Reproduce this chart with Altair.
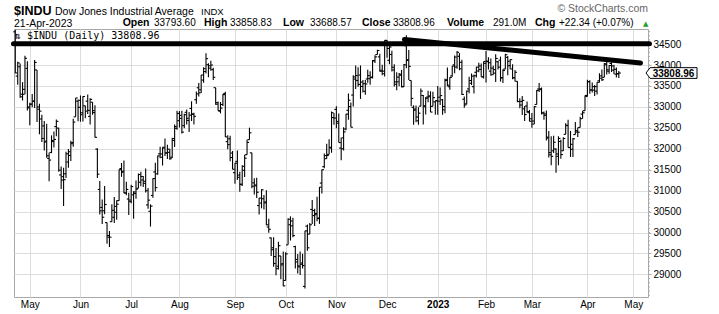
import altair as alt
import pandas as pd

# ---------------- data ----------------
holidays = ["2022-05-30", "2022-06-20", "2022-07-04", "2022-09-05", "2022-11-24",
            "2022-12-26", "2023-01-02", "2023-01-16", "2023-02-20", "2023-04-07"]

opens = [
    # Apr 2022
    34793, 33736, 33958, 33302, 33419, 33920,
    # May
    32998, 33068, 33142, 33883, 32944, 32711, 32546, 32181, 31771, 31912, 32171, 32530, 32493, 31375, 31335, 31402, 31683, 31841, 32148, 32762, 33138,
    # Jun
    33156, 32859, 33027, 33136, 32773, 33111, 32864, 31991, 31028, 30598, 30519, 30237, 29889, 30259, 30364, 30624, 30761, 31527, 31461, 30943, 30800,
    # Jul
    30737, 30899, 30932, 31056, 31200, 31254, 31224, 30659, 30506, 30886, 31447, 31401, 31879, 31797, 32017, 31901, 31915, 31799, 32243, 32488,
    # Aug
    32671, 32726, 32552, 32871, 32676, 32962, 32822, 33172, 33457, 33408, 33640, 33844, 34008, 33925, 33890, 33459, 33101, 32898, 33057, 33320, 32171, 32237, 31897,
    # Sep
    31429, 31699, 31371, 31156, 31486, 31858, 32218, 31903, 31185, 31114, 30643, 30704, 30807, 30732, 30131, 29871, 29636, 29425, 29195, 29441, 29255,
    # Oct
    28855, 29705, 30186, 30159, 29663, 29356, 29180, 29272, 28713, 30152, 29962, 30551, 30405, 30452, 30346, 31181, 31572, 31764, 31866, 32018, 32745,
    # Nov
    32940, 32610, 32017, 32261, 32471, 32918, 33006, 33283, 33664, 33632, 33760, 33488, 33374, 33667, 33674, 33713, 34106, 34250, 34195, 33874, 33792,
    # Dec
    34585, 34112, 34252, 33882, 33540, 33711, 33755, 33487, 34460, 34126, 33631, 32989, 32948, 32669, 33017, 33273, 33004, 33235, 33264, 33013, 33121,
    # Jan 2023
    33148, 33231, 33169, 33010, 33648, 33482, 33739, 34004, 33952, 34208, 34065, 33184, 33073, 33429, 33565, 33482, 33826, 33858, 33894, 33717,
    # Feb
    34040, 34081, 33855, 33769, 33807, 34078, 34115, 33690, 33905, 34183, 33985, 33905, 33693, 33611, 33128, 33130, 32953, 33021, 32861,
    # Mar
    32716, 32589, 33058, 33426, 33411, 32853, 32833, 32278, 31857, 31951, 31994, 31820, 32175, 31952, 32344, 32553, 32028, 31987, 32339, 32400, 32508, 32828, 32910,
    # Apr
    33248, 33602, 33405, 33400, 33376, 33623, 33741, 33707, 34005, 33852, 34036, 33877, 33781, 33794,
]
highs = [
    34843, 34077, 34034, 33591, 34223, 34090,
    33101, 33305, 34118, 33883, 33073, 32813, 32660, 32597, 31904, 32320, 32410, 32699, 32502, 31578, 31544, 31928, 31996, 32190, 32718, 33213, 33179,
    33273, 33256, 33027, 33298, 33208, 33111, 33042, 32013, 31230, 30789, 31108, 30237, 30038, 30677, 30850, 30773, 31503, 31660, 31720, 31214, 30950,
    31143, 30988, 31243, 31408, 31449, 31350, 31526, 31064, 30673, 31298, 31668, 31838, 32048, 32036, 32244, 32097, 32003, 32264, 32578, 32910,
    32900, 32906, 32836, 32939, 32875, 33135, 32859, 33365, 33573, 33761, 33944, 34281, 34044, 34100, 33937, 33459, 33130, 33117, 33309, 33364, 32323, 32308, 31946,
    31667, 31959, 31450, 31608, 31857, 32215, 32504, 31903, 31294, 31306, 30826, 31034, 30898, 31009, 30330, 29878, 29888, 29632, 29779, 29441, 29546,
    29529, 30338, 30387, 30355, 29682, 29488, 29548, 29492, 30040, 30191, 30226, 30777, 30568, 30853, 31085, 31505, 31889, 32117, 32229, 32889, 32855,
    33014, 32840, 32264, 32516, 32839, 33317, 33105, 33755, 33987, 33944, 33990, 33644, 33641, 33889, 33851, 34120, 34232, 34362, 34270, 34009, 34590,
    34596, 34468, 34341, 34017, 33826, 33811, 33883, 34027, 34712, 34361, 33631, 33040, 33031, 32989, 33442, 33286, 33237, 33386, 33373, 33362, 33148,
    33498, 33463, 33190, 33676, 33943, 33705, 33975, 34228, 34336, 34283, 34124, 33247, 33391, 33719, 33798, 33771, 33957, 34057, 34034, 34086,
    34334, 34187, 34154, 33983, 34257, 34095, 34201, 33900, 34269, 34215, 34136, 34016, 33881, 33611, 33205, 33258, 33020, 33128, 32928,
    32855, 33019, 33405, 33573, 33463, 32889, 32914, 32423, 32300, 32310, 32011, 32299, 32216, 32273, 32608, 32693, 32426, 32256, 32637, 32508, 32765, 32910, 33274,
    33649, 33636, 33581, 33525, 33587, 33803, 33891, 34050, 34082, 33998, 34083, 34004, 33943, 33859,
]
lows = [
    33806, 33527, 33218, 33152, 33303, 32913,
    32560, 32994, 32976, 32638, 32346, 32163, 31959, 31784, 31227, 31895, 32029, 32300, 31451, 31038, 30636, 31300, 31545, 31710, 32046, 32762, 32658,
    32645, 32649, 32726, 32828, 32578, 32813, 32271, 31304, 30429, 30205, 30436, 29730, 29653, 30259, 30229, 30302, 30761, 31330, 30937, 30890, 30420,
    30700, 30330, 30809, 31056, 31104, 31087, 30957, 30565, 30143, 30829, 30982, 31377, 31776, 31602, 31829, 31754, 31735, 31778, 32043, 32452,
    32507, 32365, 32488, 32579, 32400, 32663, 32577, 33072, 33251, 33333, 33576, 33798, 33706, 33863, 33643, 33051, 32906, 32844, 33019, 32283, 31986, 31701, 31510,
    31162, 31254, 30975, 31110, 31324, 31858, 32218, 31058, 30910, 30823, 30433, 30578, 30551, 30173, 29996, 29439, 29185, 28977, 29115, 28885, 28715,
    28855, 29705, 29808, 29889, 29138, 29022, 28983, 29142, 28661, 29565, 29962, 30203, 30153, 30267, 30206, 30929, 31536, 31764, 31866, 31905, 32573,
    32487, 32148, 31727, 31960, 32440, 32693, 32514, 33010, 33429, 33478, 33191, 33345, 33290, 33578, 33527, 33678, 34048, 34250, 33844, 33754, 33728,
    34174, 34020, 33847, 33487, 33395, 33494, 33469, 33478, 33921, 33643, 33016, 32573, 32634, 32573, 33017, 32581, 32816, 33109, 32876, 33013, 32810,
    32812, 33043, 32812, 32847, 33495, 33410, 33721, 33806, 33908, 33874, 33286, 32982, 33055, 33325, 33521, 33322, 33700, 33829, 33717, 33680,
    33584, 33890, 33742, 33765, 33595, 33895, 33604, 33570, 33896, 33756, 33898, 33661, 33604, 33113, 32967, 32806, 32663, 32861, 32657,
    32500, 32589, 33058, 33353, 32819, 32690, 32199, 31792, 31605, 31896, 31429, 31608, 31763, 31944, 32344, 32030, 31805, 31806, 32339, 32283, 32508, 32715, 32910,
    33248, 33313, 33341, 33262, 33294, 33580, 33616, 33707, 33774, 33794, 33834, 33785, 33699, 33689,
]
closes = [
    33811, 34049, 33240, 33301, 34160, 32977,
    33061, 33129, 34061, 32998, 32899, 32246, 32161, 31834, 31730, 32197, 32223, 32655, 31490, 31253, 31262, 31880, 31928, 32120, 32637, 33213, 32990,
    32813, 33248, 32900, 32916, 33180, 32910, 32273, 31393, 30517, 30365, 30669, 29927, 29889, 30530, 30484, 30677, 31500, 31439, 30947, 31029, 30775,
    31097, 30968, 31037, 31385, 31338, 31174, 31000, 30773, 30630, 31289, 31073, 31828, 31875, 32037, 31899, 31990, 31762, 32198, 32530, 32845,
    32798, 32397, 32813, 32727, 32803, 32833, 32775, 33310, 33337, 33761, 33913, 34152, 33981, 33999, 33707, 33064, 32910, 32970, 33292, 32283, 32099, 31791, 31510,
    31656, 31318, 31145, 31581, 31775, 32152, 32381, 31105, 31135, 30962, 30822, 31020, 30706, 30184, 30077, 29590, 29260, 29135, 29684, 29226, 28726,
    29490, 30317, 30274, 29927, 29297, 29203, 29240, 29211, 30039, 29635, 30186, 30524, 30424, 30334, 31083, 31500, 31837, 31839, 32034, 32861, 32733,
    32653, 32148, 32001, 32403, 32827, 33160, 32514, 33716, 33748, 33537, 33593, 33554, 33547, 33746, 33700, 34098, 34194, 34347, 33850, 33853, 34590,
    34395, 34430, 33947, 33597, 33598, 33781, 33477, 34005, 34109, 33966, 33203, 32920, 32758, 32850, 33377, 33027, 33204, 33241, 32876, 33221, 33147,
    33136, 33270, 32930, 33631, 33518, 33704, 33974, 34190, 34303, 33910, 33297, 33045, 33376, 33630, 33734, 33744, 33949, 33978, 33717, 34086,
    34093, 34054, 33926, 33891, 34156, 33949, 33699, 33869, 34246, 34089, 34128, 33697, 33827, 33130, 33045, 33154, 32817, 32889, 32657,
    32662, 33004, 33391, 33432, 32856, 32798, 32254, 31910, 31820, 32155, 31875, 32247, 31862, 32245, 32561, 32031, 32106, 32238, 32433, 32395, 32718, 32860, 33274,
    33601, 33403, 33483, 33486, 33587, 33685, 33647, 34030, 33887, 33988, 33977, 33897, 33787, 33808.96,
]

# trend lines drawn on the chart (trading-day index, price)
flat_line_i = [-0.75, 262.7]
flat_line_v = [34510, 34510]
slope_line_i = [161.2, 259.0]
slope_line_v = [34609, 34048]

y_ticks = list(range(29000, 34501, 500))
minor_ticks = list(range(28500, 34801, 100))

header_title = ["$INDU", "Dow Jones Industrial Average", "INDX"]
header_date = "21-Apr-2023"
header_fields = ["Open", "High", "Low", "Close", "Volume", "Chg"]
header_values = ["33793.60", "33858.83", "33688.57", "33808.96", "291.0M", "+22.34 (+0.07%)"]
legend_text = "⇅ $INDU (Daily) 33808.96"
last_label = "33808.96"
credit = "© StockCharts.com"

# ---------------- build tables ----------------
all_days = [d for d in pd.bdate_range("2022-04-22", "2023-05-10")
            if d.strftime("%Y-%m-%d") not in holidays]
n = len(closes)
df = pd.DataFrame({"i": list(range(n)), "open": opens, "high": highs,
                   "low": lows, "close": closes,
                   "date": [d.strftime("%Y-%m-%d") for d in all_days[:n]]})

tick_idx, tick_lab = [], []
for k in range(1, len(all_days)):
    if all_days[k].month != all_days[k - 1].month:
        tick_idx.append(k)
        tick_lab.append(str(all_days[k].year) if all_days[k].month == 1
                        else all_days[k].strftime("%b"))
label_expr = "".join(f"datum.value == {v} ? '{l}' : " for v, l in zip(tick_idx, tick_lab)) + "''"
year_idx = [v for v, l in zip(tick_idx, tick_lab) if l.isdigit()]
bold_test = " || ".join(f"datum.value == {v}" for v in year_idx) or "false"

W, H = 634, 268
x_scale = alt.Scale(domain=[-0.54, 262.1], nice=False, zero=False)
y_scale = alt.Scale(domain=[28460, 34860], nice=False, zero=False)

x_axis = alt.Axis(values=tick_idx, labelExpr=label_expr, grid=True, gridColor="#dddddd",
                  ticks=False, domain=False, labelFont="Liberation Sans", labelFontSize=10,
                  labelColor="black", labelPadding=2, labelFlush=False, labelOverlap=False,
                  labelFontWeight={"condition": {"test": bold_test, "value": "bold"}, "value": "normal"},
                  title=None)
y_axis = alt.Axis(orient="right", values=y_ticks, grid=True, gridColor="#dddddd",
                  tickSize=3, tickColor="#aaaaaa", domain=False, labelFont="Liberation Sans",
                  labelFontSize=10, labelColor="black", labelPadding=2, labelAlign="left",
                  labelBaseline="middle", format="d", title=None)


def X(f):
    return alt.X(f, type="quantitative", scale=x_scale, axis=x_axis)


def Y(f):
    return alt.Y(f, type="quantitative", scale=y_scale, axis=y_axis)


base = alt.Chart(df)
hl = base.mark_rule(color="black", strokeWidth=1.1).encode(x=X("i"), y=Y("low"), y2="high")
op = base.transform_calculate(ox="datum.i - 0.85").mark_rule(color="black", strokeWidth=1.1).encode(
    x=X("ox"), x2="i", y=Y("open"))
cl = base.transform_calculate(cx="datum.i + 0.85").mark_rule(color="black", strokeWidth=1.1).encode(
    x=X("cx"), x2="i", y=Y("close"))

lines_df = pd.DataFrame({"i": flat_line_i + slope_line_i, "v": flat_line_v + slope_line_v,
                         "g": ["flat", "flat", "slope", "slope"]})
trend = alt.Chart(lines_df).mark_line(color="black", strokeWidth=5, strokeCap="round").encode(
    x=X("i"), y=Y("v"), detail="g:N")

minor = alt.Chart(pd.DataFrame({"v": minor_ticks})).mark_rule(color="#aaaaaa", strokeWidth=1).encode(
    x=alt.value(W), x2=alt.value(W + 2), y=Y("v"))

last_df = pd.DataFrame({"close": [closes[-1]], "t": [last_label]})
box_path = "M -1 0 L -0.84 -0.21 L 1 -0.21 L 1 0.21 L -0.84 0.21 Z"
box = alt.Chart(last_df).mark_point(shape=box_path, size=2601, filled=True, fill="white",
                                    stroke="black", strokeWidth=1, opacity=1).encode(
    x=alt.value(W + 23.5), y=Y("close"))
box_text = alt.Chart(last_df).mark_text(font="Liberation Sans", fontSize=10, fontWeight="bold",
                                        color="black", align="center", baseline="middle", dy=0.5).encode(
    x=alt.value(W + 25.5), y=Y("close"), text="t:N")


def txt(s, x, y, size=11, weight="normal", color="black", font="Liberation Sans", align="left"):
    return alt.Chart(pd.DataFrame({"t": [s]})).mark_text(
        font=font, fontSize=size, fontWeight=weight, color=color, align=align,
        baseline="alphabetic").encode(x=alt.value(x), y=alt.value(y), text="t:N")


texts = [
    txt(header_title[0], 0, -14, size=12.5, weight="bold"),
    txt(header_title[1], 41, -14.5, size=10.5),
    txt(header_title[2], 187, -14.5, size=9.5),
    txt(header_date, 0, -2.5, size=10.5),
    txt(credit, W, -17, size=10.5, color="#666666", align="right"),
    txt(legend_text, 1, 9.5, size=10, font="DejaVu Sans Mono"),
    txt("▲", 629, -3.5, size=7, color="#22a022", font="DejaVu Sans"),
]
field_x = [108.7, 190, 269, 348, 433, 521]
value_x = [140, 216, 296, 379, 479, 545]
for f, fx, v, vx in zip(header_fields, field_x, header_values, value_x):
    texts.append(txt(f, fx, -3, size=10.5, weight="bold"))
    texts.append(txt(v, vx, -3, size=10))

chart = alt.layer(hl, op, cl, minor, trend, box, box_text, *texts).properties(
    width=W, height=H,
    padding={"left": 14, "top": 29, "right": 71, "bottom": 17},
    autosize=alt.AutoSizeParams(type="none"),
    background="white",
).configure_view(stroke="#a8a8a8", strokeWidth=1)

chart.save("out.html", embed_options={"renderer": "svg", "actions": False})
